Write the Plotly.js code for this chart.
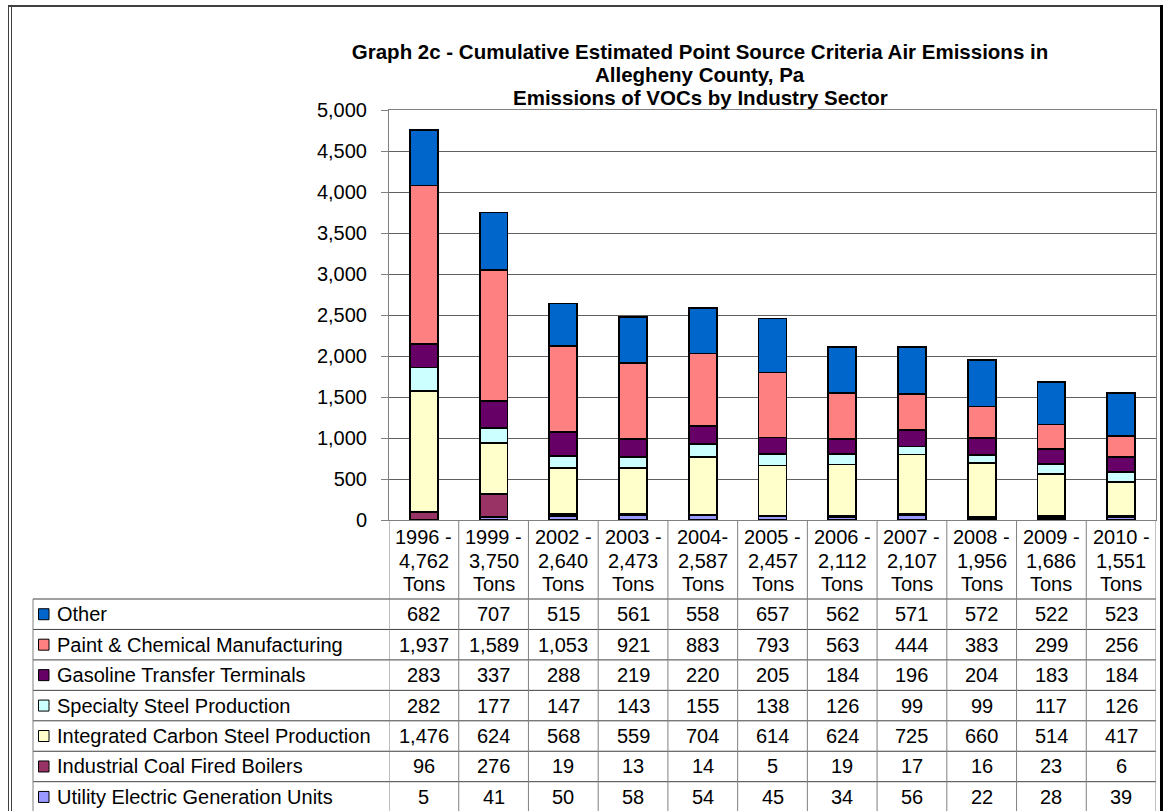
<!DOCTYPE html>
<html>
<head>
<meta charset="utf-8">
<script src="https://cdn.plot.ly/plotly-3.0.1.min.js"></script>
<style>
  html, body { margin: 0; padding: 0; background: #ffffff; }
  #chart { width: 1163px; height: 811px; }
</style>
</head>
<body>
<div id="chart"></div>
<script>
// ---------------- DATA ----------------
const yearLabels = ['1996 -', '1999 -', '2002 -', '2003 -', '2004-', '2005 -', '2006 -', '2007 -', '2008 -', '2009 -', '2010 -'];
const totalLabels = ['4,762', '3,750', '2,640', '2,473', '2,587', '2,457', '2,112', '2,107', '1,956', '1,686', '1,551'];
const unitLabel = 'Tons';

const seriesNames = [
  'Other',
  'Paint & Chemical Manufacturing',
  'Gasoline Transfer Terminals',
  'Specialty Steel Production',
  'Integrated Carbon Steel Production',
  'Industrial Coal Fired Boilers',
  'Utility Electric Generation Units'
];
const other      = [682, 707, 515, 561, 558, 657, 562, 571, 572, 522, 523];
const paint      = [1937, 1589, 1053, 921, 883, 793, 563, 444, 383, 299, 256];
const gasoline   = [283, 337, 288, 219, 220, 205, 184, 196, 204, 183, 184];
const specialty  = [282, 177, 147, 143, 155, 138, 126, 99, 99, 117, 126];
const integrated = [1476, 624, 568, 559, 704, 614, 624, 725, 660, 514, 417];
const coal       = [96, 276, 19, 13, 14, 5, 19, 17, 16, 23, 6];
const utility    = [5, 41, 50, 58, 54, 45, 34, 56, 22, 28, 39];

const titleLines = [
  'Graph 2c - Cumulative Estimated Point Source Criteria Air Emissions in',
  'Allegheny County, Pa',
  'Emissions of VOCs by Industry Sector'
];

// ---------------- STYLE ----------------
const seriesColors = ['#0066CC', '#FF8080', '#660066', '#CCFFFF', '#FFFFCC', '#993366', '#9999FF'];
const FONT = 'Liberation Sans, Arial, sans-serif';
const FS = 20;
const TFS = 20.5;

const W = 1163, H = 811;
const M = { l: 389, r: 7, t: 110, b: 291 };
const plotW = W - M.l - M.r;
const plotH = H - M.t - M.b;
const px2x = px => (px - M.l) / plotW;
const py2y = py => (H - M.b - py) / plotH;

const seriesValues = [other, paint, gasoline, specialty, integrated, coal, utility];
const categories = yearLabels.map((y, i) => y + ' ' + totalLabels[i] + ' ' + unitLabel);

// traces: stacked bottom-up (reverse of table order)
const traces = [];
for (let s = seriesNames.length - 1; s >= 0; s--) {
  traces.push({
    type: 'bar',
    name: seriesNames[s],
    x: categories,
    y: seriesValues[s],
    marker: { color: seriesColors[s], line: { color: '#000000', width: 1.8 } },
    hovertemplate: '%{x}<br>' + seriesNames[s] + ': %{y:,}<extra></extra>'
  });
}

const shapes = [];
const annotations = [];

// title lines 2 and 3 (line 1 is layout.title)
const titleCenters = [51.5, 75, 98];
const titleX = 700;
for (let k = 1; k < titleLines.length; k++) {
  annotations.push({
    xref: 'paper', yref: 'paper', x: px2x(titleX), y: py2y(titleCenters[k]),
    text: titleLines[k], showarrow: false, xanchor: 'center', yanchor: 'middle',
    font: { family: FONT, size: TFS, color: '#000', weight: 'bold' }
  });
}

// header row (category labels)
const headerY = [537, 560.5, 584];
yearLabels.forEach((lab, i) => {
  [lab, totalLabels[i], unitLabel].forEach((t, k) => {
    annotations.push({
      xref: 'x', yref: 'paper', x: i, y: py2y(headerY[k]),
      text: t, showarrow: false, xanchor: 'center', yanchor: 'middle',
      font: { family: FONT, size: FS, color: '#000' }
    });
  });
});

// table rows
const rowTop = 599, rowH = 30.45;
const tableLeft = 33, tableRight = W - M.r;
for (let r = 0; r <= seriesNames.length; r++) {
  const y = rowTop + r * rowH;
  shapes.push({
    type: 'line', xref: 'paper', yref: 'paper',
    x0: px2x(tableLeft), x1: px2x(tableRight), y0: py2y(y), y1: py2y(y),
    line: { color: '#404040', width: 1 }
  });
}
// vertical lines
for (let c = 0; c <= yearLabels.length; c++) {
  shapes.push({
    type: 'line', xref: 'x', yref: 'paper',
    x0: c - 0.5, x1: c - 0.5, y0: 0, y1: py2y(H + 2),
    line: { color: '#808080', width: 1 }
  });
}
shapes.push({
  type: 'line', xref: 'paper', yref: 'paper',
  x0: px2x(tableLeft), x1: px2x(tableLeft), y0: py2y(rowTop), y1: py2y(H + 2),
  line: { color: '#808080', width: 1 }
});

seriesNames.forEach((name, r) => {
  const cy = rowTop + (r + 0.5) * rowH;
  // legend key
  shapes.push({
    type: 'rect', xref: 'paper', yref: 'paper',
    x0: px2x(38.5), x1: px2x(49), y0: py2y(cy - 5.5), y1: py2y(cy + 5.5),
    fillcolor: seriesColors[r], line: { color: '#000', width: 1 }
  });
  annotations.push({
    xref: 'paper', yref: 'paper', x: px2x(55), y: py2y(cy),
    text: name, showarrow: false, xanchor: 'left', yanchor: 'middle',
    font: { family: FONT, size: FS, color: '#000' }
  });
  seriesValues[r].forEach((v, i) => {
    annotations.push({
      xref: 'x', yref: 'paper', x: i, y: py2y(cy),
      text: v.toLocaleString('en-US'), showarrow: false, xanchor: 'center', yanchor: 'middle',
      font: { family: FONT, size: FS, color: '#000' }
    });
  });
});

// outer frame
shapes.push({ type: 'line', xref: 'paper', yref: 'paper', x0: px2x(8), x1: px2x(1162), y0: py2y(6), y1: py2y(6), line: { color: '#404040', width: 2 } });
shapes.push({ type: 'line', xref: 'paper', yref: 'paper', x0: px2x(8.5), x1: px2x(8.5), y0: py2y(5), y1: py2y(H + 2), line: { color: '#404040', width: 1 } });
shapes.push({ type: 'line', xref: 'paper', yref: 'paper', x0: px2x(11.5), x1: px2x(11.5), y0: py2y(6), y1: py2y(H + 2), line: { color: '#404040', width: 1 } });
shapes.push({ type: 'line', xref: 'paper', yref: 'paper', x0: px2x(1161.5), x1: px2x(1161.5), y0: py2y(5), y1: py2y(H + 2), line: { color: '#000', width: 3 } });

const layout = {
  width: W, height: H,
  margin: M,
  paper_bgcolor: '#ffffff', plot_bgcolor: '#ffffff',
  barmode: 'stack', bargap: 0.6,
  showlegend: false,
  font: { family: FONT, size: FS, color: '#000' },
  title: {
    text: titleLines[0],
    font: { family: FONT, size: TFS, color: '#000', weight: 'bold' },
    xref: 'container', x: titleX / W, xanchor: 'center',
    yref: 'container', y: 1 - titleCenters[0] / H, yanchor: 'middle'
  },
  xaxis: {
    type: 'category', showticklabels: false, ticks: '',
    showgrid: false, zeroline: false,
    showline: true, linecolor: '#808080', linewidth: 1, mirror: true,
    range: [-0.5, yearLabels.length - 0.5], fixedrange: true
  },
  yaxis: {
    range: [0, 5000], dtick: 500, tickformat: ',d',
    showgrid: true, gridcolor: '#606060', gridwidth: 1,
    zeroline: false,
    showline: true, linecolor: '#808080', linewidth: 1, mirror: true,
    ticks: 'outside', ticklen: 7, tickcolor: '#808080',
    ticklabelstandoff: 10,
    tickfont: { family: FONT, size: FS, color: '#000' },
    fixedrange: true
  },
  shapes: shapes,
  annotations: annotations
};

Plotly.newPlot('chart', traces, layout, { displayModeBar: false, staticPlot: true });
</script>
</body>
</html>
